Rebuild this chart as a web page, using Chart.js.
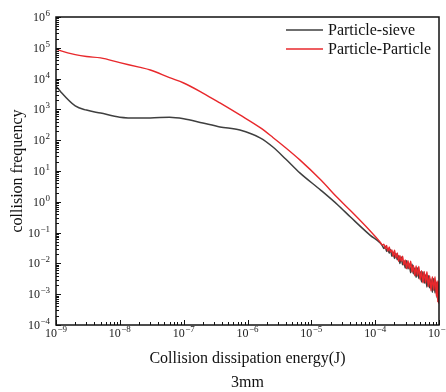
<!DOCTYPE html>
<html><head><meta charset="utf-8">
<script src="https://cdn.jsdelivr.net/npm/chart.js@4.4.1/dist/chart.umd.min.js"></script>
<style>html,body{margin:0;padding:0;background:#fff;overflow:hidden}canvas{display:block}</style>
</head><body>
<canvas id="c" width="446" height="392"></canvas>
<script>
// Collision dissipation energy (J) – smooth part of the curves
const energy = [1.0e-9, 1.2e-9, 2.0e-9, 3.0e-9, 5.0e-9, 1.0e-8, 2.0e-8, 3.0e-8, 6.0e-8, 1.0e-7, 2.0e-7, 3.7e-7, 7.6e-7, 1.6e-6, 2.5e-6, 4.0e-6, 6.6e-6, 1.4e-5, 2.6e-5, 4.1e-5, 8.3e-5, 1.2e-4];
const sieveFreq = [5800, 3600, 1290, 950, 760, 560, 525, 525, 560, 500, 360, 270, 214, 117, 60, 24, 8.7, 2.4, 0.79, 0.32, 0.083, 0.046];
const particleFreq = [91000, 79000, 60000, 52000, 47000, 33000, 23500, 19000, 10700, 7200, 3400, 1620, 660, 250, 123, 56, 23, 5.2, 1.32, 0.52, 0.115, 0.049];
// noisy high-energy tail
const tailEnergy = [1.30e-4, 1.37e-4, 1.44e-4, 1.51e-4, 1.58e-4, 1.66e-4, 1.74e-4, 1.83e-4, 1.92e-4, 2.01e-4, 2.11e-4, 2.22e-4, 2.33e-4, 2.44e-4, 2.56e-4, 2.69e-4, 2.82e-4, 2.96e-4, 3.11e-4, 3.27e-4, 3.43e-4, 3.60e-4, 3.78e-4, 3.97e-4, 4.17e-4, 4.38e-4, 4.60e-4, 4.83e-4, 5.07e-4, 5.32e-4, 5.59e-4, 5.87e-4, 6.16e-4, 6.47e-4, 6.79e-4, 7.13e-4, 7.49e-4, 7.86e-4, 8.25e-4, 8.67e-4, 9.10e-4, 9.35e-4, 9.55e-4, 9.75e-4, 9.90e-4, 1.0e-3];
const sieveTail = [0.0372, 0.0302, 0.0363, 0.0245, 0.0302, 0.0214, 0.0282, 0.0170, 0.0229, 0.0145, 0.0209, 0.0132, 0.0178, 0.0100, 0.0162, 0.00912, 0.0123, 0.00708, 0.0123, 0.00661, 0.00955, 0.00501, 0.00933, 0.00457, 0.00708, 0.00355, 0.00708, 0.00324, 0.00537, 0.00251, 0.00537, 0.00229, 0.00417, 0.00170, 0.00407, 0.00162, 0.00309, 0.00115, 0.00324, 0.00110, 0.00240, 0.000759, 0.00204, 0.000562, 0.00135, 0.000575];
const particleTail = [0.0398, 0.0417, 0.0302, 0.0380, 0.0251, 0.0339, 0.0234, 0.0275, 0.0170, 0.0269, 0.0151, 0.0219, 0.0117, 0.0182, 0.0117, 0.0170, 0.00891, 0.0129, 0.00676, 0.0123, 0.00676, 0.0117, 0.00525, 0.00851, 0.00398, 0.00832, 0.00389, 0.00794, 0.00295, 0.00575, 0.00234, 0.00550, 0.00229, 0.00537, 0.00174, 0.00398, 0.00129, 0.00372, 0.00135, 0.00372, 0.000851, 0.00275, 0.000562, 0.00263, 0.000501, 0.00126];

const seriesNames = ['Particle-sieve', 'Particle-Particle'];
const seriesColors = ['#3f3f3f', '#e8282c'];
const tickBase = '10';
const xTickExp = ['−9', '−8', '−7', '−6', '−5', '−4', '−3'];
const yTickExp = ['−4', '−3', '−2', '−1', '0', '1', '2', '3', '4', '5', '6'];
const xTitle = ['Collision dissipation energy(J)', '3mm'];
const yTitle = 'collision frequency';

const FONT = '"Liberation Serif", "Times New Roman", serif';
const allE = energy.concat(tailEnergy);
const toPts = (a, b) => allE.map((x, i) => ({x, y: i < a.length ? a[i] : b[i - a.length]}));

function keepIntegerSignificand(s) {
  s.ticks = s.ticks.filter(t => {
    const m = t.value / Math.pow(10, Math.floor(Math.log10(t.value) + 1e-9));
    return Math.abs(m - Math.round(m)) < 1e-6;
  });
}
function decadeIndex(v) {
  const e = Math.log10(v), r = Math.round(e);
  return Math.abs(e - r) < 1e-6 ? r : null;
}

const framePlugin = {
  id: 'frame',
  afterDraw(chart) {
    const {ctx, chartArea: a, scales} = chart;
    const xs = scales.x, ys = scales.y;
    ctx.save();
    ctx.strokeStyle = '#111';
    ctx.lineWidth = 1;
    // inward tick marks
    ctx.beginPath();
    xs.ticks.forEach(t => {
      const major = decadeIndex(t.value) !== null;
      const px = Math.round(xs.getPixelForValue(t.value)) + 0.5;
      ctx.moveTo(px, a.bottom); ctx.lineTo(px, a.bottom - (major ? 5 : 3));
    });
    ys.ticks.forEach(t => {
      const major = decadeIndex(t.value) !== null;
      const py = Math.round(ys.getPixelForValue(t.value)) + 0.5;
      ctx.moveTo(a.left, py); ctx.lineTo(a.left + (major ? 5 : 3), py);
    });
    ctx.stroke();
    // frame
    ctx.lineWidth = 1.5;
    ctx.strokeRect(a.left, a.top, a.right - a.left, a.bottom - a.top);

    // tick labels with superscript exponents
    ctx.fillStyle = '#222';
    ctx.textBaseline = 'alphabetic';
    ctx.textAlign = 'left';
    const baseFont = '12px ' + FONT, expFont = '9px ' + FONT;
    function measure(exp) {
      ctx.font = baseFont; const wb = ctx.measureText(tickBase).width;
      ctx.font = expFont; const we = ctx.measureText(exp).width;
      return [wb, we];
    }
    function draw(exp, x, baseY) {
      const [wb] = measure(exp);
      ctx.font = baseFont; ctx.fillText(tickBase, x, baseY);
      ctx.font = expFont; ctx.fillText(exp, x + wb + 0.5, baseY - 5);
    }
    xs.ticks.forEach(t => {
      const d = decadeIndex(t.value); if (d === null) return;
      const exp = xTickExp[d + 9]; if (exp === undefined) return;
      const [wb, we] = measure(exp);
      const px = xs.getPixelForValue(t.value);
      draw(exp, px - (wb + we + 0.5) / 2, a.bottom + 12);
    });
    ys.ticks.forEach(t => {
      const d = decadeIndex(t.value); if (d === null) return;
      const exp = yTickExp[d + 4]; if (exp === undefined) return;
      const [wb, we] = measure(exp);
      const py = ys.getPixelForValue(t.value);
      draw(exp, a.left - 6 - (wb + we + 0.5), py + 4);
    });

    // legend
    ctx.font = '16px ' + FONT;
    ctx.textBaseline = 'middle';
    chart.data.datasets.forEach((ds, i) => {
      const y = a.top + 13 + i * 19;
      ctx.strokeStyle = ds.borderColor;
      ctx.lineWidth = 1.5;
      ctx.beginPath();
      ctx.moveTo(a.right - 153, y); ctx.lineTo(a.right - 116, y);
      ctx.stroke();
      ctx.fillStyle = '#111';
      ctx.fillText(ds.label, a.right - 111, y + 1);
    });
    ctx.restore();
  }
};

new Chart(document.getElementById('c'), {
  type: 'line',
  data: {
    datasets: [
      {label: seriesNames[0], data: toPts(sieveFreq, sieveTail), borderColor: seriesColors[0], borderWidth: 1.5, pointRadius: 0, order: 1, cubicInterpolationMode: 'monotone'},
      {label: seriesNames[1], data: toPts(particleFreq, particleTail), borderColor: seriesColors[1], borderWidth: 1.4, pointRadius: 0, order: 0, cubicInterpolationMode: 'monotone'}
    ]
  },
  options: {
    responsive: false,
    animation: false,
    events: [],
    layout: {padding: {left: 0, right: 7, top: 17, bottom: 0}},
    plugins: {legend: {display: false}, tooltip: {enabled: false}},
    scales: {
      x: {
        type: 'logarithmic', min: 1e-9, max: 1e-3,
        grid: {display: false, drawTicks: false},
        border: {display: false},
        afterBuildTicks: keepIntegerSignificand,
        afterFit: s => { s.height = 67; s.paddingLeft = 0; s.paddingRight = 0; },
        ticks: {display: false, autoSkip: false, maxRotation: 0},
        title: {display: true, text: xTitle, color: '#111', font: {family: FONT, size: 16, lineHeight: 1.45}, padding: {top: 0, bottom: -2}}
      },
      y: {
        type: 'logarithmic', min: 1e-4, max: 1e6,
        grid: {display: false, drawTicks: false},
        border: {display: false},
        afterBuildTicks: keepIntegerSignificand,
        afterFit: s => { s.width = 56; s.paddingTop = 0; s.paddingBottom = 0; },
        ticks: {display: false, autoSkip: false},
        title: {display: true, text: yTitle, color: '#111', font: {family: FONT, size: 16, lineHeight: 1.2}, padding: {top: 8, bottom: 0}}
      }
    }
  },
  plugins: [framePlugin]
});
</script>
</body></html>
